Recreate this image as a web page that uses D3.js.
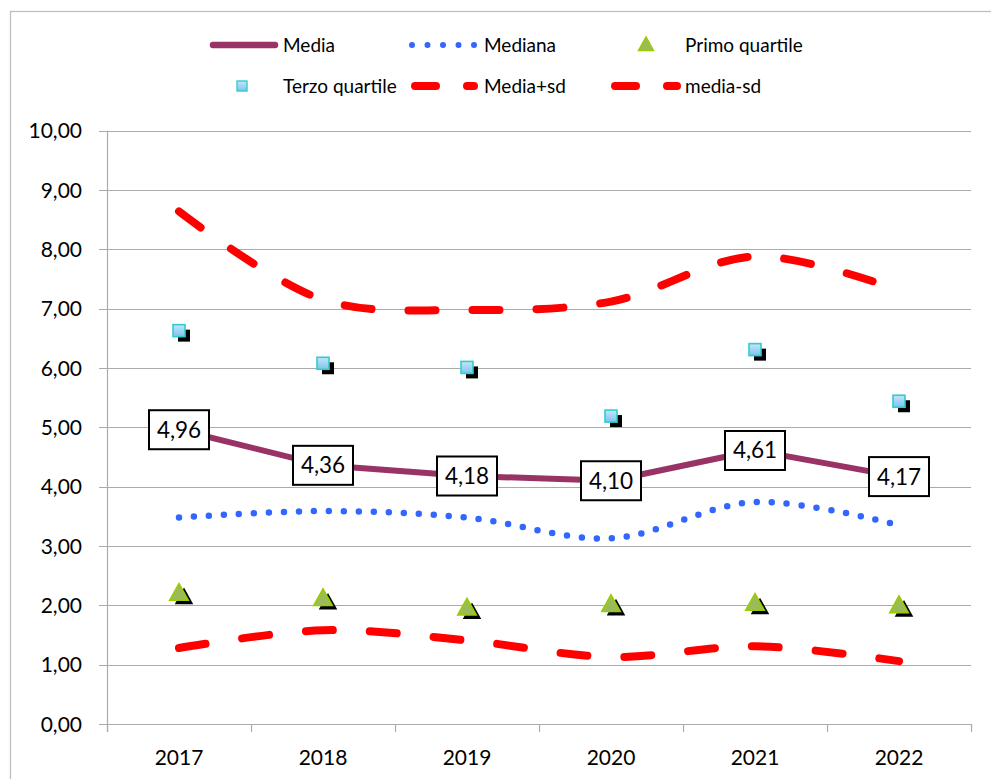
<!DOCTYPE html>
<html><head><meta charset="utf-8">
<script src="https://cdn.jsdelivr.net/npm/d3@7/dist/d3.min.js"></script>
<style>body{margin:0;background:#fff}svg{display:block;font-family:Lato,"Open Sans",sans-serif;font-weight:400}</style>
</head><body><svg id="c" width="991" height="779"></svg>
<script>
const years = ["2017","2018","2019","2020","2021","2022"];
const media = [4.96, 4.36, 4.18, 4.10, 4.61, 4.17];
const mediana = [3.48, 3.59, 3.48, 3.13, 3.74, 3.35];
const primoQuartile = [2.20, 2.11, 1.95, 2.01, 2.03, 1.99];
const terzoQuartile = [6.63, 6.08, 6.01, 5.19, 6.31, 5.44];
const mediaPiuSd = [8.64, 7.15, 6.98, 7.12, 7.88, 7.31];
const mediaMenoSd = [1.28, 1.58, 1.41, 1.13, 1.31, 1.06];
const yTicks = [0,1,2,3,4,5,6,7,8,9,10];

const svg = d3.select("#c");
const fmt = v => d3.format(".2f")(v).replace(".", ",");

// outer border
svg.append("rect").attr("x",10.5).attr("y",11.5).attr("width",1000).attr("height",800)
  .attr("fill","none").attr("stroke","#bfbfbf").attr("stroke-width",1.3);

const x = d3.scaleBand().domain(years).range([107, 971]).padding(0);
const y = d3.scaleLinear().domain([0,10]).range([724, 130.7]);
const cx = d => x(d) + x.bandwidth()/2;

// gridlines
svg.append("g").selectAll("line").data(yTicks).join("line")
  .attr("x1",99).attr("x2",971).attr("y1",d=>Math.round(y(d))+0.5).attr("y2",d=>Math.round(y(d))+0.5)
  .attr("stroke","#ababab").attr("stroke-width",1.2);
// y axis line
svg.append("line").attr("x1",107.5).attr("x2",107.5).attr("y1",130.7).attr("y2",732)
  .attr("stroke","#ababab").attr("stroke-width",1.2);
// x ticks
const bounds = years.map(d=>x(d)).concat([971]);
svg.append("g").selectAll("line").data(bounds).join("line")
  .attr("x1",d=>Math.round(d)+0.5).attr("x2",d=>Math.round(d)+0.5).attr("y1",724).attr("y2",732)
  .attr("stroke","#ababab").attr("stroke-width",1.2);
// y labels
svg.append("g").selectAll("text").data(yTicks).join("text")
  .attr("x",82).attr("y",d=>y(d)+7.5).attr("text-anchor","end")
  .attr("font-size",21).attr("fill","#000").text(d=>fmt(d));
// x labels
svg.append("g").selectAll("text").data(years).join("text")
  .attr("x",d=>cx(d)).attr("y",765).attr("text-anchor","middle")
  .attr("font-size",21).attr("fill","#000").text(d=>d);

const pts = arr => years.map((d,i)=>[cx(d), y(arr[i])]);
const smooth = d3.line().curve(d3.curveCatmullRom.alpha(0.5));
const straight = d3.line();

// media-sd & media+sd
[mediaPiuSd, mediaMenoSd].forEach(arr=>{
  svg.append("path").attr("d", smooth(pts(arr))).attr("fill","none")
    .attr("stroke","#ff0000").attr("stroke-width",8).attr("stroke-linecap","round")
    .attr("stroke-dasharray","27 37");
});
// mediana
svg.append("path").attr("d", smooth(pts(mediana))).attr("fill","none")
  .attr("stroke","#3366ff").attr("stroke-width",6.5).attr("stroke-linecap","round")
  .attr("stroke-dasharray","0 15");
// media
svg.append("path").attr("d", straight(pts(media))).attr("fill","none")
  .attr("stroke","#993366").attr("stroke-width",6).attr("stroke-linejoin","round");

// gradient for squares
const defs = svg.append("defs");
const g = defs.append("linearGradient").attr("id","sq").attr("x1",0).attr("y1",0).attr("x2",0).attr("y2",1);
g.append("stop").attr("offset","0%").attr("stop-color","#c4e6fb");
g.append("stop").attr("offset","100%").attr("stop-color","#7dc3ee");

// terzo quartile squares with shadow
const tq = pts(terzoQuartile);
svg.append("g").selectAll("rect").data(tq).join("rect")
  .attr("x",d=>d[0]-6+5).attr("y",d=>d[1]-6+5).attr("width",12).attr("height",12).attr("fill","#000");
svg.append("g").selectAll("rect").data(tq).join("rect")
  .attr("x",d=>d[0]-6).attr("y",d=>d[1]-6).attr("width",12).attr("height",12)
  .attr("fill","url(#sq)").attr("stroke","#33cccc").attr("stroke-width",1.6);

// primo quartile triangles with shadow
const pq = pts(primoQuartile);
const tri = (cxp,cyp,s)=>`M${cxp},${cyp-s*0.62}L${cxp+s*0.58},${cyp+s*0.42}L${cxp-s*0.58},${cyp+s*0.42}Z`;
svg.append("g").selectAll("path").data(pq).join("path")
  .attr("d",d=>tri(d[0]+5,d[1]+4,16)).attr("fill","#000");
svg.append("g").selectAll("path").data(pq).join("path")
  .attr("d",d=>tri(d[0],d[1],16)).attr("fill","#9bbb59").attr("stroke","#99cc00").attr("stroke-width",1.6);

// data labels for media
const lab = svg.append("g").selectAll("g").data(pts(media)).join("g")
  .attr("transform",d=>`translate(${d[0]},${d[1]})`);
lab.append("rect").attr("x",-30).attr("y",-19.5).attr("width",60).attr("height",39)
  .attr("fill","#fff").attr("stroke","#000").attr("stroke-width",2);
lab.append("text").attr("text-anchor","middle").attr("y",8).attr("font-size",22.5)
  .attr("fill","#000").text((d,i)=>fmt(media[i]));

// legend
const L = svg.append("g");
const legText = (tx,ty,t)=>L.append("text").attr("x",tx).attr("y",ty).attr("font-size",19).attr("fill","#000").text(t);
// row 1
L.append("line").attr("x1",213).attr("x2",275).attr("y1",45).attr("y2",45)
  .attr("stroke","#993366").attr("stroke-width",6.5).attr("stroke-linecap","round");
legText(283,52,"Media");
L.append("line").attr("x1",412).attr("x2",476).attr("y1",45).attr("y2",45)
  .attr("stroke","#3366ff").attr("stroke-width",6).attr("stroke-linecap","round").attr("stroke-dasharray","0 15.5");
legText(484,52,"Mediana");
L.append("path").attr("d",tri(646,45,13)).attr("fill","#9bbb59").attr("stroke","#99cc00").attr("stroke-width",1.4);
legText(685,52,"Primo quartile");
// row 2
L.append("rect").attr("x",237).attr("y",81).attr("width",10).attr("height",10)
  .attr("fill","url(#sq)").attr("stroke","#33cccc").attr("stroke-width",1.4);
legText(283,93,"Terzo quartile");
L.append("line").attr("x1",415).attr("x2",474).attr("y1",86).attr("y2",86)
  .attr("stroke","#ff0000").attr("stroke-width",8).attr("stroke-linecap","round").attr("stroke-dasharray","21 31");
legText(484,93,"Media+sd");
L.append("line").attr("x1",615).attr("x2",677).attr("y1",86).attr("y2",86)
  .attr("stroke","#ff0000").attr("stroke-width",8).attr("stroke-linecap","round").attr("stroke-dasharray","21 31");
legText(685,93,"media-sd");
</script></body></html>
